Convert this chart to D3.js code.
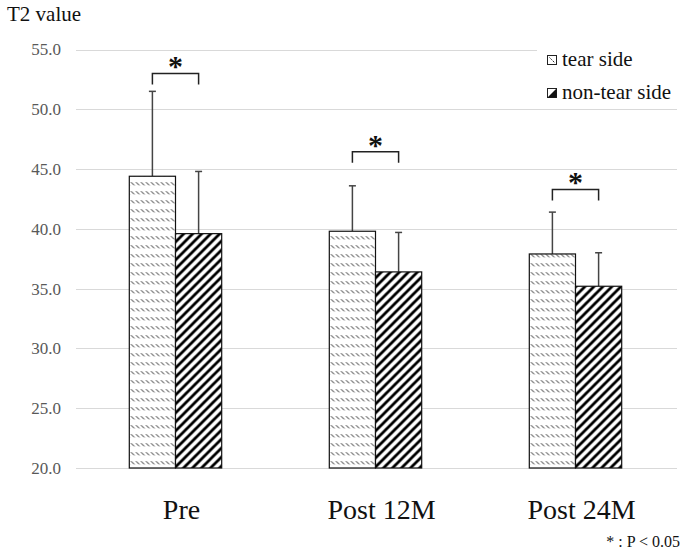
<!DOCTYPE html>
<html>
<head>
<meta charset="utf-8">
<script src="https://cdn.jsdelivr.net/npm/d3@7"></script>
<style>
  html, body { margin: 0; padding: 0; background: #fff; }
  svg { display: block; }
  svg text { font-family: "Liberation Serif", "Times New Roman", serif !important; }
</style>
</head>
<body>
<svg id="chart" width="685" height="558"></svg>
<script>
// ---- data ----
const categories = ["Pre", "Post 12M", "Post 24M"];
const seriesNames = ["tear side", "non-tear side"];
const tearMean = [44.4, 39.8, 37.9];
const tearSD = [7.1, 3.8, 3.5];
const nonTearMean = [39.6, 36.4, 35.2];
const nonTearSD = [5.2, 3.3, 2.8];
const bracketLevel = [53.0, 46.45, 43.3];
const yTicks = [20, 25, 30, 35, 40, 45, 50, 55];
const yTitle = "T2 value";
const footnote = "* : P < 0.05";

const svg = d3.select("#chart");

const y = d3.scaleLinear().domain([20, 55]).range([468, 49.5]);
const x0 = d3.scaleBand().domain(categories).range([75.5, 675.5]).paddingInner(0).paddingOuter(0);
const groupW = 92.4;
const x1 = d3.scaleBand().domain(seriesNames).range([(x0.bandwidth() - groupW) / 2, (x0.bandwidth() + groupW) / 2]);

// patterns
const defs = svg.append("defs");
const pTear = defs.append("pattern").attr("id", "pTear").attr("patternUnits", "userSpaceOnUse")
  .attr("width", 5).attr("height", 9);
pTear.append("rect").attr("width", 5).attr("height", 9).attr("fill", "#fff");
pTear.append("path").attr("d", "M0.6,2.2 L3.8,5.4").attr("stroke", "#222").attr("stroke-width", 1);

const pNon = defs.append("pattern").attr("id", "pNon").attr("patternUnits", "userSpaceOnUse")
  .attr("width", 9).attr("height", 9);
pNon.append("rect").attr("width", 9).attr("height", 9).attr("fill", "#fff");
pNon.append("path").attr("d", "M0,9 L9,0 M-2,2 L2,-2 M7,11 L11,7").attr("stroke", "#000").attr("stroke-width", 2.8);

// gridlines
svg.append("g").selectAll("line").data(yTicks).join("line")
  .attr("x1", 76).attr("x2", 677)
  .attr("y1", d => Math.round(y(d)) + 0.5).attr("y2", d => Math.round(y(d)) + 0.5)
  .attr("stroke", "#d9d9d9").attr("stroke-width", 1.2);

// y axis labels
const yAxis = d3.axisLeft(y).tickValues(yTicks).tickFormat(d3.format(".1f")).tickSize(0).tickPadding(0);
const gy = svg.append("g").attr("transform", "translate(61,0)").call(yAxis);
gy.attr("font-family", null);
gy.select(".domain").remove();
gy.selectAll("text").attr("font-size", 17).attr("fill", "#595959");

// y title
svg.append("text").attr("x", 7).attr("y", 21).attr("font-size", 21).attr("fill", "#111").text(yTitle);

// bars
const data = categories.map((c, i) => ({
  cat: c,
  vals: [
    { s: seriesNames[0], v: tearMean[i], sd: tearSD[i], fill: "url(#pTear)" },
    { s: seriesNames[1], v: nonTearMean[i], sd: nonTearSD[i], fill: "url(#pNon)" }
  ]
}));

const groups = svg.append("g").selectAll("g").data(data).join("g")
  .attr("transform", d => `translate(${x0(d.cat)},0)`);

// error bars
groups.selectAll(".err").data(d => d.vals).join("g").attr("class", "err").each(function(d) {
  const g = d3.select(this);
  const cx = x1(d.s) + x1.bandwidth() / 2;
  g.append("line").attr("x1", cx).attr("x2", cx).attr("y1", y(d.v)).attr("y2", y(d.v + d.sd))
    .attr("stroke", "#444").attr("stroke-width", 1.5);
  g.append("line").attr("x1", cx - 3.5).attr("x2", cx + 3.5).attr("y1", y(d.v + d.sd)).attr("y2", y(d.v + d.sd))
    .attr("stroke", "#444").attr("stroke-width", 1.5);
});

groups.selectAll("rect").data(d => d.vals).join("rect")
  .attr("x", d => x1(d.s))
  .attr("width", x1.bandwidth())
  .attr("y", d => y(d.v))
  .attr("height", d => y(20) - y(d.v))
  .attr("fill", d => d.fill)
  .attr("stroke", "#111").attr("stroke-width", 1.2);

// significance brackets
groups.each(function(d, i) {
  const g = d3.select(this);
  const xa = x1(seriesNames[0]) + x1.bandwidth() / 2;
  const xb = x1(seriesNames[1]) + x1.bandwidth() / 2;
  const yt = y(bracketLevel[i]);
  g.append("path").attr("d", `M${xa},${yt + 11} L${xa},${yt} L${xb},${yt} L${xb},${yt + 11}`)
    .attr("fill", "none").attr("stroke", "#222").attr("stroke-width", 1.5);
  g.append("text").attr("x", (xa + xb) / 2).attr("y", yt + 3).attr("text-anchor", "middle")
    .attr("font-size", 30).attr("font-weight", "bold").attr("fill", "#111").text("*");
});

// category labels
svg.append("g").selectAll("text").data(categories).join("text")
  .attr("x", d => x0(d) + x0.bandwidth() / 2 + 6)
  .attr("y", 519)
  .attr("text-anchor", "middle")
  .attr("font-size", 28).attr("fill", "#111")
  .text(d => d);

// legend
const lg = svg.append("g");
lg.append("rect").attr("x", 537).attr("y", 44).attr("width", 145).attr("height", 10).attr("fill", "#fff");
seriesNames.forEach((s, i) => {
  const yy = 55 + i * 33;
  lg.append("rect").attr("x", 547.5).attr("y", yy + 0.5).attr("width", 9).attr("height", 9)
    .attr("fill", "#fff").attr("stroke", "#222").attr("stroke-width", 1);
  if (i === 0) {
    lg.append("path").attr("d", `M549.5,${yy + 2.5} L555,${yy + 8}`).attr("stroke", "#222")
      .attr("stroke-width", 1).attr("stroke-dasharray", "1.5,1");
  } else {
    lg.append("path").attr("d", `M556.5,${yy + 0.5} L556.5,${yy + 9.5} L547.5,${yy + 9.5} Z`).attr("fill", "#111");
  }
  lg.append("text").attr("x", 562).attr("y", yy + 10.5).attr("font-size", 21).attr("fill", "#111").text(s);
});

// footnote
svg.append("text").attr("x", 680).attr("y", 547).attr("text-anchor", "end")
  .attr("font-size", 16).attr("fill", "#111").text(footnote);
</script>
</body>
</html>
